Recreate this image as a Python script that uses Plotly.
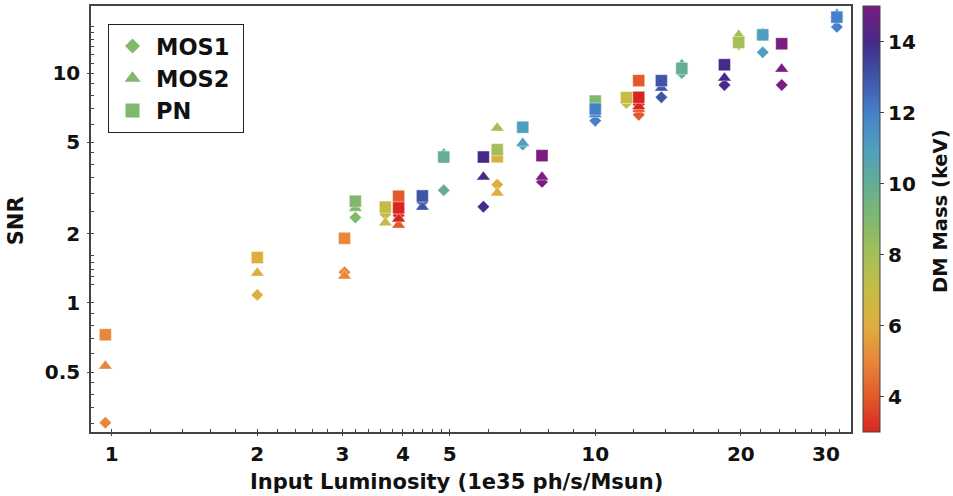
import plotly.graph_objects as go

# Input luminosity (1e35 ph/s/Msun) and dark-matter mass (keV) of each simulated source
luminosity = [0.97, 2.0, 3.03, 3.19, 3.68, 3.92, 3.92, 4.39, 4.86, 5.87, 6.27, 6.27, 7.08,
              7.76, 10.0, 10.0, 11.6, 12.3, 12.3, 13.7, 15.1, 18.5, 19.8, 22.2, 24.3, 31.6]
mass_keV = [5, 6, 5, 9, 7, 4, 3, 13, 10, 14, 6, 8, 11,
            15, 9, 12, 7, 4, 3, 13, 10, 14, 8, 11, 15, 12]

# Detection significance per instrument
snr_mos1 = [0.301, 1.083, 1.36, 2.35, 2.43, 2.30, 2.40, 2.75, 3.09, 2.62, 3.27, 4.50, 4.88,
            3.36, 7.2, 6.2, 7.4, 6.58, 7.3, 7.84, 10.0, 8.87, 13.3, 12.3, 8.87, 15.86]
snr_mos2 = [0.531, 1.348, 1.31, 2.58, 2.23, 2.18, 2.32, 2.61, 4.45, 3.53, 3.01, 5.76, 4.95,
            3.53, 7.3, 6.6, 7.6, 6.95, 7.15, 8.6, 10.9, 9.52, 14.6, 14.9, 10.4, 18.0]
snr_pn = [0.727, 1.575, 1.91, 2.77, 2.61, 2.91, 2.59, 2.92, 4.31, 4.31, 4.32, 4.64, 5.81,
          4.37, 7.55, 6.97, 7.82, 9.26, 7.84, 9.26, 10.47, 10.86, 13.57, 14.65, 13.4, 17.5]

x_ticks = [1, 2, 3, 4, 5, 10, 20, 30]
x_minor = [1.2, 1.4, 1.6, 1.8, 2.2, 2.4, 2.6, 2.8, 3.2, 3.4, 3.6, 3.8, 4.2, 4.4, 4.6, 4.8,
           6, 7, 8, 9, 12, 14, 16, 18, 22, 24, 26, 28, 32]
y_ticks = [0.5, 1, 2, 5, 10]
y_ticktext = ["0.5", "1", "2", "5", "10"]
y_minor = [0.3, 0.35, 0.4, 0.45, 0.6, 0.7, 0.8, 0.9, 1.2, 1.3, 1.4, 1.5, 1.6,
           2.5, 3, 3.5, 4, 4.5, 6, 7, 8, 9, 11, 12, 13, 14, 15, 16]

cbar_ticks = [4, 6, 8, 10, 12, 14]
mass_min, mass_max = 3, 15

# Rainbow palette, red at low mass through purple at high mass (one stop per keV)
palette = ["#d8261f", "#e25a2a", "#e8873a", "#ddae3f", "#c6bc45", "#a5bf58", "#80b86e",
           "#63ae95", "#4f9ebd", "#4680c8", "#3f55a7", "#452a87", "#7a1c80"]
colorscale = [[i / (len(palette) - 1), c] for i, c in enumerate(palette)]
legend_color = palette[6]

FONT = "DejaVu Sans"
TXT = "#111111"
PAD = "\u00a0"  # trailing space keeps some room inside the legend box

fig = go.Figure()

series = [
    ("MOS1", snr_mos1, "diamond", 9.5),
    ("MOS2", snr_mos2, "triangle-up", 12),
    ("PN", snr_pn, "square", 12),
]

for name, snr, symbol, size in series:
    is_pn = name == "PN"
    fig.add_trace(go.Scatter(
        x=luminosity, y=snr, mode="markers", name=name, showlegend=False,
        marker=dict(
            symbol=symbol, size=size, color=mass_keV, colorscale=colorscale,
            cmin=mass_min, cmax=mass_max,
            line=dict(width=0.6, color="rgba(255,255,255,0.7)"),
            showscale=is_pn,
            colorbar=dict(
                x=1.0154, xanchor="left", xpad=0, y=0.5, yanchor="middle", ypad=0,
                len=1, lenmode="fraction", thickness=17,
                outlinewidth=1, outlinecolor="#444444",
                tickvals=cbar_ticks, ticks="outside", ticklen=4, tickcolor="#444444",
                tickprefix="\u2009",
                tickfont=dict(family=FONT, size=20, color=TXT, weight="bold"),
            ) if is_pn else None,
        ),
    ))
    # legend entry drawn in the mid-range colour
    fig.add_trace(go.Scatter(
        x=[None], y=[None], mode="markers", name=name + PAD, showlegend=True,
        marker=dict(symbol=symbol, size=size + 2, color=legend_color),
    ))

# extra axis that only draws the outward half of the major ticks
fig.add_trace(go.Scatter(x=[None], y=[None], xaxis="x2", yaxis="y2", showlegend=False))

axis_common = dict(
    type="log", showgrid=False, zeroline=False, showline=True, linecolor="#444444",
    linewidth=1.5, mirror=True, ticks="inside", ticklen=3, tickcolor="#444444",
    tickfont=dict(family=FONT, size=20, color=TXT, weight="bold"),
)

xr = [-0.0429, 1.5289]
yr = [-0.5615, 1.2914]

fig.update_layout(
    width=953, height=496,
    margin=dict(l=91, r=102, t=4, b=64),
    paper_bgcolor="white", plot_bgcolor="white",
    xaxis=dict(axis_common, range=xr, tickmode="array", tickvals=x_ticks,
               ticktext=[str(v) for v in x_ticks], ticklabelstandoff=3,
               minor=dict(tickmode="array", tickvals=x_minor, ticks="inside",
                          ticklen=3, tickcolor="#444444")),
    yaxis=dict(axis_common, range=yr, tickmode="array", tickvals=y_ticks,
               ticktext=y_ticktext, ticklabelstandoff=5,
               minor=dict(tickmode="array", tickvals=y_minor, ticks="inside",
                          ticklen=3, tickcolor="#444444")),
    xaxis2=dict(type="log", range=xr, overlaying="x", anchor="y2", side="bottom",
                showgrid=False, zeroline=False, showline=False, showticklabels=False,
                tickmode="array", tickvals=x_ticks, ticks="outside", ticklen=3,
                tickcolor="#444444"),
    yaxis2=dict(type="log", range=yr, overlaying="y", anchor="x2", side="left",
                showgrid=False, zeroline=False, showline=False, showticklabels=False,
                tickmode="array", tickvals=y_ticks, ticks="outside", ticklen=3,
                tickcolor="#444444"),
    legend=dict(
        x=0.0224, y=0.958, xanchor="left", yanchor="top",
        bgcolor="white", bordercolor="#222222", borderwidth=1,
        font=dict(family=FONT, size=22.5, color=TXT, weight="bold"),
        itemsizing="trace", itemwidth=37,
    ),
    annotations=[
        dict(text="Input Luminosity (1e35 ph/s/Msun)", xref="paper", yref="paper",
             x=0.481, y=-0.1168, xanchor="center", yanchor="middle", showarrow=False,
             font=dict(family=FONT, size=21, color=TXT, weight="bold")),
        dict(text="SNR", xref="paper", yref="paper", x=-0.0987, y=0.497,
             xanchor="center", yanchor="middle", textangle=-90, showarrow=False,
             font=dict(family=FONT, size=21, color=TXT, weight="bold")),
        dict(text="DM Mass (keV)", xref="paper", yref="paper", x=1.117, y=0.5187,
             xanchor="center", yanchor="middle", textangle=-90, showarrow=False,
             font=dict(family=FONT, size=19.5, color=TXT, weight="bold")),
    ],
)

fig.write_html("out.html")
